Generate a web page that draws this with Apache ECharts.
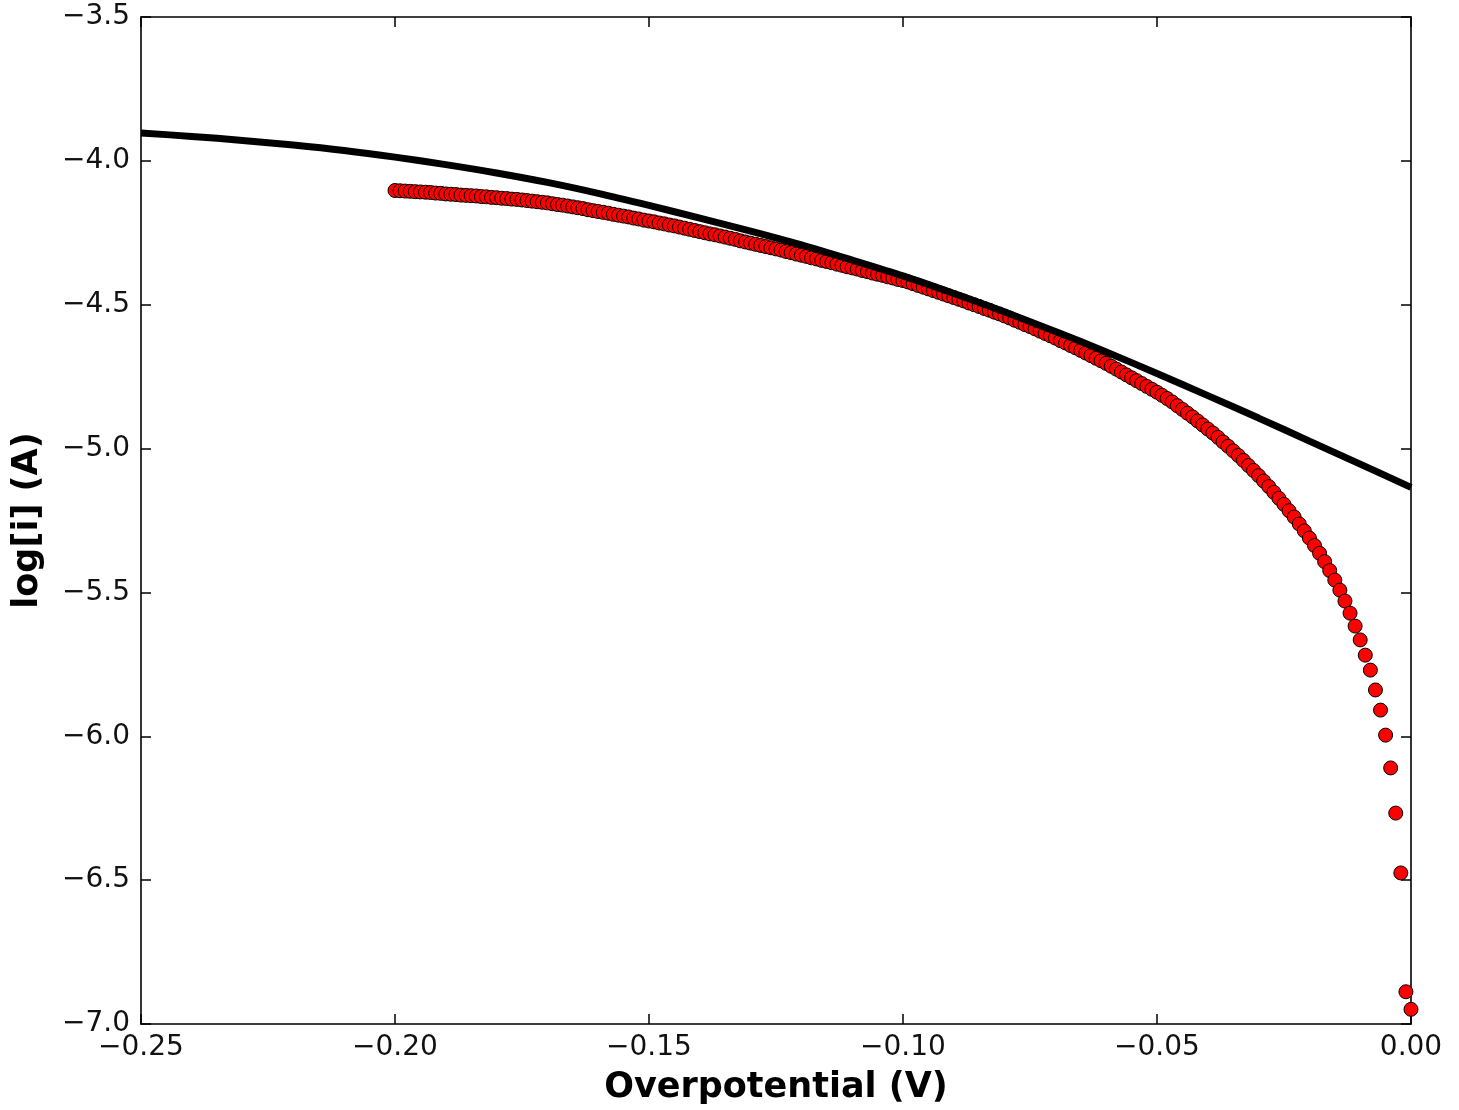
<!DOCTYPE html>
<html>
<head>
<meta charset="utf-8">
<title>Overpotential vs log current</title>
<script src="https://cdn.jsdelivr.net/npm/echarts@6/dist/echarts.min.js"></script>
<style>
  html, body { margin: 0; padding: 0; background: #ffffff; }
  #chart { width: 1459px; height: 1110px; }
</style>
</head>
<body>
<div id="chart"></div>
<script>
// Measured points: overpotential sampled from -0.200 V to 0.000 V in 1 mV steps
const ETA_START = -0.200;
const ETA_STEP = 0.001;
const measuredLogI = [
  -4.103, -4.104, -4.105, -4.106, -4.107, -4.108,
  -4.109, -4.110, -4.112, -4.113, -4.115,
  -4.116, -4.117, -4.119, -4.120, -4.121,
  -4.122, -4.124, -4.125, -4.127, -4.128,
  -4.130, -4.131, -4.133, -4.134, -4.136,
  -4.138, -4.140, -4.142, -4.144, -4.146,
  -4.149, -4.152, -4.154, -4.157, -4.160,
  -4.163, -4.166, -4.170, -4.173, -4.176,
  -4.179, -4.182, -4.186, -4.189, -4.192,
  -4.195, -4.199, -4.202, -4.206, -4.209,
  -4.212, -4.216, -4.219, -4.223, -4.226,
  -4.230, -4.234, -4.238, -4.242, -4.246,
  -4.250, -4.254, -4.257, -4.261, -4.265,
  -4.269, -4.273, -4.278, -4.282, -4.286,
  -4.290, -4.294, -4.298, -4.302, -4.306,
  -4.310, -4.315, -4.319, -4.324, -4.328,
  -4.332, -4.337, -4.341, -4.346, -4.350,
  -4.354, -4.359, -4.363, -4.368, -4.372,
  -4.376, -4.381, -4.385, -4.390, -4.394,
  -4.398, -4.403, -4.407, -4.412, -4.416,
  -4.421, -4.427, -4.433, -4.439, -4.445,
  -4.451, -4.457, -4.463, -4.469, -4.475,
  -4.481, -4.487, -4.494, -4.500, -4.506,
  -4.513, -4.519, -4.526, -4.532, -4.539,
  -4.546, -4.554, -4.561, -4.569, -4.576,
  -4.584, -4.592, -4.600, -4.608, -4.616,
  -4.625, -4.633, -4.642, -4.650, -4.659,
  -4.668, -4.677, -4.686, -4.695, -4.704,
  -4.714, -4.724, -4.734, -4.744, -4.754,
  -4.764, -4.774, -4.784, -4.794, -4.804,
  -4.815, -4.826, -4.838, -4.851, -4.864,
  -4.877, -4.890, -4.904, -4.918, -4.932,
  -4.946, -4.961, -4.977, -4.992, -5.008,
  -5.024, -5.041, -5.059, -5.076, -5.094,
  -5.113, -5.132, -5.152, -5.173, -5.194,
  -5.216, -5.238, -5.262, -5.286, -5.311,
  -5.337, -5.364, -5.393, -5.424, -5.457,
  -5.492, -5.530, -5.572, -5.617, -5.665,
  -5.718, -5.770, -5.839, -5.909, -5.996,
  -6.110, -6.267, -6.475, -6.888, -6.949
];

// Fitted curve, 10 mV spacing from -0.25 V to 0 V
const fitEta = [
  -0.25, -0.24, -0.23, -0.22, -0.21, -0.20, -0.19, -0.18, -0.17, -0.16,
  -0.15, -0.14, -0.13, -0.12, -0.11, -0.10, -0.09, -0.08, -0.07, -0.06,
  -0.05, -0.04, -0.03, -0.02, -0.01, 0.00
];
const fitLogI = [
  -3.903, -3.915, -3.929, -3.945, -3.964, -3.987, -4.013, -4.042, -4.075, -4.113,
  -4.155, -4.199, -4.244, -4.292, -4.345, -4.400, -4.461, -4.525, -4.593, -4.664,
  -4.739, -4.816, -4.894, -4.974, -5.054, -5.135
];

// Axis ranges and tick spacing
const xRange = { min: -0.25, max: 0.0, step: 0.05 };
const yRange = { min: -7.0, max: -3.5, step: 0.5 };

const measuredData = measuredLogI.map((v, i) => [+(ETA_START + i * ETA_STEP).toFixed(3), v]);
const fitData = fitEta.map((x, i) => [x, fitLogI[i]]);

const FONT = '"DejaVu Sans", "Liberation Sans", sans-serif';
const minus = s => s.replace('-', '\u2212');

const tickStyle = { inside: true, length: 10, lineStyle: { color: '#000', width: 1.5 } };
const frameLine = { show: true, onZero: false, lineStyle: { color: '#000', width: 1.6 } };

const chart = echarts.init(document.getElementById('chart'), null, { renderer: 'canvas' });
chart.setOption({
  backgroundColor: '#ffffff',
  animation: false,
  grid: { left: 141, right: 48, top: 17, bottom: 86, containLabel: false },
  xAxis: [
    {
      type: 'value', position: 'bottom',
      min: xRange.min, max: xRange.max, interval: xRange.step,
      name: 'Overpotential (V)', nameLocation: 'middle', nameGap: 46,
      nameTextStyle: { fontFamily: FONT, fontSize: 35, fontWeight: 'bold', color: '#000' },
      axisLine: frameLine, axisTick: tickStyle, splitLine: { show: false },
      axisLabel: {
        fontFamily: FONT, fontSize: 28, color: '#111', margin: 10,
        formatter: v => minus(v.toFixed(2))
      }
    },
    {
      type: 'value', position: 'top',
      min: xRange.min, max: xRange.max, interval: xRange.step,
      axisLine: frameLine, axisTick: tickStyle, splitLine: { show: false },
      axisLabel: { show: false }
    }
  ],
  yAxis: [
    {
      type: 'value', position: 'left',
      min: yRange.min, max: yRange.max, interval: yRange.step,
      name: 'log[i] (A)', nameLocation: 'middle', nameGap: 96,
      nameTextStyle: { fontFamily: FONT, fontSize: 35, fontWeight: 'bold', color: '#000' },
      axisLine: frameLine, axisTick: tickStyle, splitLine: { show: false },
      axisLabel: {
        fontFamily: FONT, fontSize: 28, color: '#111', margin: 11,
        formatter: v => minus(v.toFixed(1))
      }
    },
    {
      type: 'value', position: 'right',
      min: yRange.min, max: yRange.max, interval: yRange.step,
      axisLine: frameLine, axisTick: tickStyle, splitLine: { show: false },
      axisLabel: { show: false }
    }
  ],
  series: [
    {
      name: 'measured',
      type: 'scatter',
      data: measuredData,
      symbol: 'circle',
      symbolSize: 14,
      itemStyle: { color: '#ff0000', opacity: 1, borderColor: '#000000', borderWidth: 1 },
      z: 2
    },
    {
      name: 'fit',
      type: 'line',
      data: fitData,
      smooth: 0.3,
      showSymbol: false,
      lineStyle: { color: '#000000', width: 7 },
      z: 3
    }
  ]
});
</script>
</body>
</html>
